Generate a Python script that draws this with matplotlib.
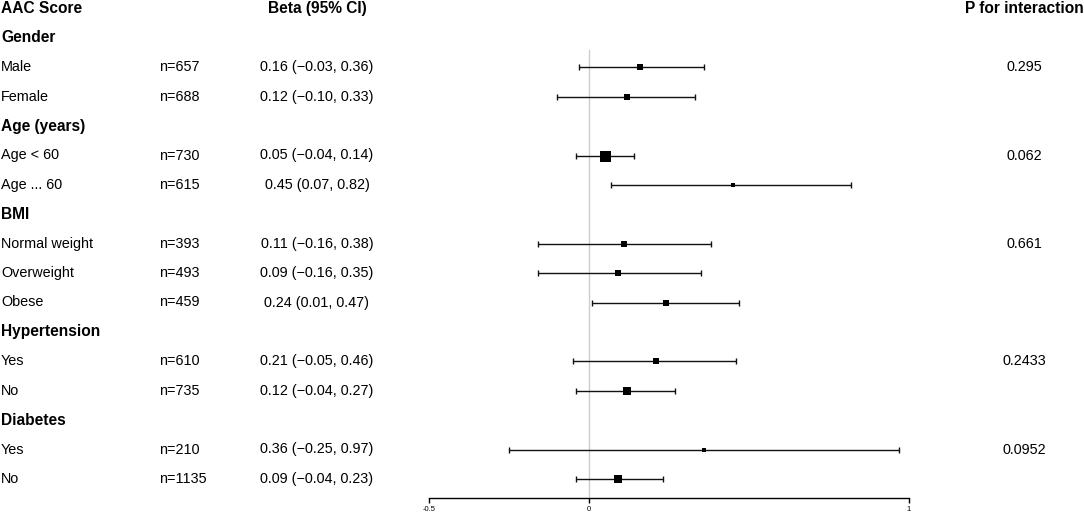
import matplotlib.pyplot as plt
import numpy as np
from matplotlib.transforms import blended_transform_factory

plt.rcParams['font.family'] = ['Liberation Sans', 'DejaVu Sans']

# subgroup data
groups = ['Gender', 'Age (years)', 'BMI', 'Hypertension', 'Diabetes']
subgroups = [['Male', 'Female'],
             ['Age < 60', 'Age ... 60'],
             ['Normal weight', 'Overweight', 'Obese'],
             ['Yes', 'No'],
             ['Yes', 'No']]
n_obs = [657, 688, 730, 615, 393, 493, 459, 610, 735, 210, 1135]
beta = [0.16, 0.12, 0.05, 0.45, 0.11, 0.09, 0.24, 0.21, 0.12, 0.36, 0.09]
ci_low = [-0.03, -0.10, -0.04, 0.07, -0.16, -0.16, 0.01, -0.05, -0.04, -0.25, -0.04]
ci_high = [0.36, 0.33, 0.14, 0.82, 0.38, 0.35, 0.47, 0.46, 0.27, 0.97, 0.23]
p_inter = ['0.295', '0.062', '0.661', '0.2433', '0.0952']
xticks = [-0.5, 0, 1]

W, H = 1084, 515
fig = plt.figure(figsize=(W / 100, H / 100), dpi=100)
ax = fig.add_axes([0, 0, 1, 1])

# pixel layout -> data limits (x: -0.5 at 429px, 1 at 909px)
px_per_unit = 320
x0_px = 429
ax.set_xlim(-0.5 - x0_px / px_per_unit, -0.5 + (W - x0_px) / px_per_unit)
row_h, row0 = 29.4, 8.5
ax.set_ylim((H - row0) / row_h, -row0 / row_h)

tr = blended_transform_factory(ax.transAxes, ax.transData)
def fx(px):
    return px / W

bold = dict(fontsize=11.2, fontweight='bold', va='center', transform=tr)
norm = dict(fontsize=10.4, va='center', transform=tr)

# header
ax.text(fx(1), 0, 'AAC Score', ha='left', **bold)
ax.text(fx(317), 0, 'Beta (95% CI)', ha='center', **bold)
ax.text(fx(1024), 0, 'P for interaction', ha='center', **bold)

def fmt(v):
    return f'{v:.2f}'.replace('-', '\u2212')

row = 1
k = 0
ys = []
for g, subs, p in zip(groups, subgroups, p_inter):
    ax.text(fx(1), row, g, ha='left', **bold)
    row += 1
    for j, s in enumerate(subs):
        ax.text(fx(1), row, s, ha='left', **norm)
        ax.text(fx(159), row, f'n={n_obs[k]}', ha='left', **norm)
        ax.text(fx(317), row, f'{fmt(beta[k])} ({fmt(ci_low[k])}, {fmt(ci_high[k])})',
                ha='center', **norm)
        if j == 0:
            ax.text(fx(1024), row, p, ha='center', **norm)
        ys.append(row)
        row += 1
        k += 1

ys = np.array(ys, dtype=float)
b = np.array(beta)
lo = np.array(ci_low)
hi = np.array(ci_high)

axis_y = (498 - row0) / row_h
top_y = (50 - row0) / row_h

ax.plot([0, 0], [top_y, axis_y], color='#cccccc', lw=1, zorder=1)

ax.errorbar(b, ys, xerr=[b - lo, hi - b], fmt='none', ecolor='#111111',
            elinewidth=1, capsize=2.2, capthick=1, zorder=2)

# box size shrinks with CI width
width = hi - lo
box_px = np.maximum(4, 11 * (width.min() / width) ** 0.7)
for xi, yi, sz in zip(b, ys, box_px):
    ax.plot(xi, yi, marker='s', color='black', markersize=sz * 72 / 100,
            markeredgewidth=0, zorder=3)

# x axis
for side in ['top', 'left', 'right']:
    ax.spines[side].set_visible(False)
ax.spines['bottom'].set_position(('data', axis_y))
ax.spines['bottom'].set_bounds(-0.5, 1)
ax.spines['bottom'].set_linewidth(1)
ax.set_xticks(xticks)
ax.set_xticklabels(['-0.5', '0', '1'])
ax.tick_params(axis='x', direction='out', length=3.5, width=1, labelsize=5.5, pad=2)
ax.set_yticks([])
ax.patch.set_alpha(0)

fig.savefig('out.png', dpi=100)
